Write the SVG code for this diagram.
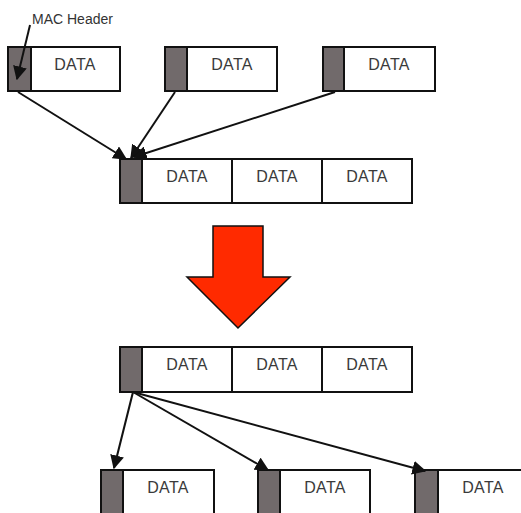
<svg xmlns="http://www.w3.org/2000/svg" width="521" height="513" viewBox="0 0 521 513">
<defs>
<style>
.hdr{fill:#716a6b;stroke:#111;stroke-width:2}
.dat{fill:#fff;stroke:#111;stroke-width:2}
.t{font-family:"Liberation Sans",Arial,sans-serif;font-size:16px;fill:#3a3a3a;text-anchor:middle;letter-spacing:0.3px}
.lbl{font-family:"Liberation Sans",Arial,sans-serif;font-size:14px;fill:#333}
.c{stroke:#111;stroke-width:2;fill:none;marker-end:url(#ah)}
</style>
<marker id="ah" viewBox="0 0 10 10" refX="9" refY="5" markerWidth="7" markerHeight="7" markerUnits="strokeWidth" orient="auto">
<path d="M0,0 L10,5 L0,10 z" fill="#111"/>
</marker>
</defs>
<rect width="521" height="513" fill="#fff"/>
<text class="lbl" x="32" y="24">MAC Header</text>
<g id="top1"><rect class="dat" x="8" y="47" width="112" height="44"/><rect class="hdr" x="8" y="47" width="23" height="44"/><text class="t" x="75" y="64" dy="6">DATA</text></g>
<g id="top2"><rect class="dat" x="165" y="47" width="112" height="44"/><rect class="hdr" x="165" y="47" width="22" height="44"/><text class="t" x="232" y="64" dy="6">DATA</text></g>
<g id="top3"><rect class="dat" x="323" y="47" width="112" height="44"/><rect class="hdr" x="323" y="47" width="21" height="44"/><text class="t" x="389" y="64" dy="6">DATA</text></g>
<g id="mid"><rect class="dat" x="120" y="159" width="292" height="44"/><rect class="hdr" x="120" y="159" width="22" height="44"/><line x1="232" y1="159" x2="232" y2="203" stroke="#111" stroke-width="2"/><line x1="322" y1="159" x2="322" y2="203" stroke="#111" stroke-width="2"/><text class="t" x="187" y="176" dy="6">DATA</text><text class="t" x="277" y="176" dy="6">DATA</text><text class="t" x="367" y="176" dy="6">DATA</text></g>
<g id="bigarrow"><polygon points="213,226 263,226 263,277 290,277 238,328 187,277 213,277" fill="#ff2a00" stroke="#111" stroke-width="1.5"/></g>
<g id="low"><rect class="dat" x="120" y="347" width="292" height="45"/><rect class="hdr" x="120" y="347" width="22" height="45"/><line x1="232" y1="347" x2="232" y2="392" stroke="#111" stroke-width="2"/><line x1="322" y1="347" x2="322" y2="392" stroke="#111" stroke-width="2"/><text class="t" x="187" y="364" dy="6">DATA</text><text class="t" x="277" y="364" dy="6">DATA</text><text class="t" x="367" y="364" dy="6">DATA</text></g>
<g id="bot1"><rect class="dat" x="101" y="470" width="113" height="50"/><rect class="hdr" x="101" y="470" width="22" height="50"/><text class="t" x="168" y="487" dy="6">DATA</text></g>
<g id="bot2"><rect class="dat" x="258" y="470" width="112" height="50"/><rect class="hdr" x="258" y="470" width="22" height="50"/><text class="t" x="325" y="487" dy="6">DATA</text></g>
<g id="bot3"><rect class="dat" x="415" y="470" width="120" height="50"/><rect class="hdr" x="415" y="470" width="23" height="50"/><text class="t" x="483" y="487" dy="6">DATA</text></g>
<g id="connectors">
<line class="c" x1="30" y1="25" x2="17" y2="79"/>
<line class="c" x1="18" y1="92" x2="126" y2="159"/>
<line class="c" x1="175" y1="92" x2="131" y2="158"/>
<line class="c" x1="335" y1="92" x2="134" y2="157"/>
<line class="c" x1="133" y1="392" x2="114" y2="468"/>
<line class="c" x1="133" y1="392" x2="268" y2="470"/>
<line class="c" x1="133" y1="392" x2="425" y2="471"/>
</g>
</svg>
